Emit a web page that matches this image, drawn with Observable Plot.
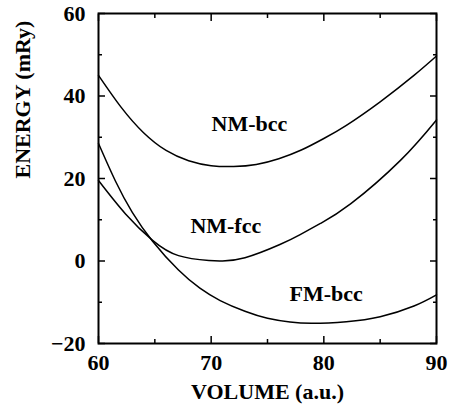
<!DOCTYPE html>
<html><head><meta charset="utf-8">
<script src="https://cdn.jsdelivr.net/npm/d3@7"></script>
<script src="https://cdn.jsdelivr.net/npm/@observablehq/plot@0.6"></script>
<style>body{margin:0;background:#fff}</style>
</head><body><div id="chart"></div>
<script>
// Data
const nmBccVolume = [60, 62, 64, 66, 68, 70, 72, 74, 76, 78, 80, 82, 85, 88, 90];
const nmBccEnergy = [45, 37.3, 31.1, 26.8, 24.3, 23.1, 22.9, 23.4, 24.8, 26.9, 29.7, 32.9, 38.6, 45.0, 49.7];

const nmFccVolume = [60, 62.4, 64.8, 67.1, 69.8, 71, 73, 76.1, 77.9, 79.7, 82.4, 86.8, 90];
const nmFccEnergy = [19.5, 11.4, 5, 1.3, 0.1, 0, 0.8, 4.0, 6.4, 9.1, 13.9, 24.4, 34.2];

const fmBccVolume = [60, 61.5, 63, 64.8, 67.1, 69, 70.8, 73, 75, 77, 79, 82, 85, 88, 90];
const fmBccEnergy = [28.5, 19.4, 11.8, 4.8, -2.2, -6.6, -9.6, -12.2, -13.9, -14.8, -15.1, -14.7, -13.5, -10.9, -8.2];

const seriesNames = ["NM-bcc", "NM-fcc", "FM-bcc"];
const labelVolume = [73.4, 71.3, 80.2];
const labelEnergy = [33.3, 8.5, -8.1];

const xMajor = [60, 70, 80, 90];
const xMinor = [65, 75, 85];
const yMajor = [-20, 0, 20, 40, 60];
const yMinor = [-10, 10, 30, 50];
const xTitle = "VOLUME (a.u.)";
const yTitle = "ENERGY (mRy)";

const rows = [];
[[nmBccVolume, nmBccEnergy], [nmFccVolume, nmFccEnergy], [fmBccVolume, fmBccEnergy]].forEach(([vs, es], i) => {
  vs.forEach((v, j) => rows.push({series: seriesNames[i], volume: v, energy: es[j]}));
});
const labels = seriesNames.map((s, i) => ({name: s, volume: labelVolume[i], energy: labelEnergy[i]}));

const blank = () => "";
const MAJ = 7, MIN = 4;
const tick = {label: null, tickFormat: blank, strokeWidth: 1.5};
const chart = Plot.plot({
  width: 451,
  height: 407,
  marginLeft: 98,
  marginRight: 15,
  marginTop: 13,
  marginBottom: 64,
  style: {fontFamily: "'Liberation Serif', 'Times New Roman', serif", fontWeight: "bold", fontSize: "22px", background: "#fff", color: "#000"},
  x: {domain: [60, 90]},
  y: {domain: [-20, 60]},
  marks: [
    Plot.line(rows, {x: "volume", y: "energy", z: "series", curve: "natural", stroke: "#000", strokeWidth: 1.5}),
    Plot.text(labels, {x: "volume", y: "energy", text: "name", fill: "#000", fontSize: 22, fontWeight: "bold"}),
    // tick labels
    Plot.axisX({anchor: "bottom", ticks: xMajor, tickSize: 0, tickPadding: 11, label: null, fontSize: 22}),
    Plot.axisY({anchor: "left", ticks: yMajor, tickSize: 0, tickPadding: 13, label: null, fontSize: 22}),
    // inward ticks (shifted inside the frame)
    Plot.axisX({anchor: "bottom", ticks: xMajor, tickSize: MAJ, dy: -MAJ, ...tick}),
    Plot.axisX({anchor: "bottom", ticks: xMinor, tickSize: MIN, dy: -MIN, ...tick}),
    Plot.axisX({anchor: "top", ticks: xMajor, tickSize: MAJ, dy: MAJ, ...tick}),
    Plot.axisX({anchor: "top", ticks: xMinor, tickSize: MIN, dy: MIN, ...tick}),
    Plot.axisY({anchor: "left", ticks: yMajor, tickSize: MAJ, dx: MAJ, ...tick}),
    Plot.axisY({anchor: "left", ticks: yMinor, tickSize: MIN, dx: MIN, ...tick}),
    Plot.axisY({anchor: "right", ticks: yMajor, tickSize: MAJ, dx: -MAJ, ...tick}),
    Plot.axisY({anchor: "right", ticks: yMinor, tickSize: MIN, dx: -MIN, ...tick}),
    Plot.frame({stroke: "#000", strokeWidth: 2}),
    // axis titles
    Plot.text([xTitle], {frameAnchor: "bottom", dy: 55, text: d => d, fontSize: 22, fontWeight: "bold", fill: "#000"}),
    Plot.text([yTitle], {frameAnchor: "left", dx: -76, rotate: -90, text: d => d, fontSize: 22, fontWeight: "bold", fill: "#000"})
  ]
});
document.getElementById("chart").appendChild(chart);
</script>
</body></html>
